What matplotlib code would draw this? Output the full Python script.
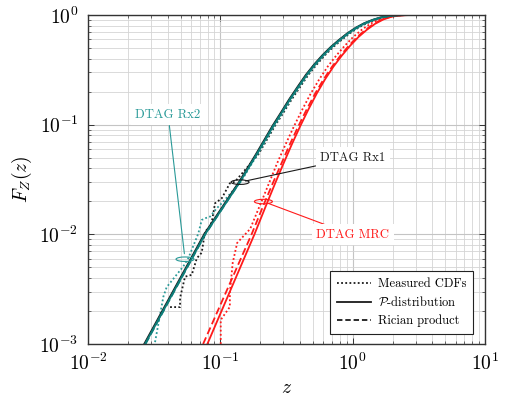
import matplotlib
matplotlib.use("Agg")
import matplotlib.pyplot as plt
from matplotlib.patches import Ellipse
from matplotlib.transforms import ScaledTranslation
from matplotlib.lines import Line2D

plt.rcParams['mathtext.fontset'] = 'cm'
plt.rcParams['font.family'] = ['cmr10', 'DejaVu Serif']
plt.rcParams['axes.formatter.use_mathtext'] = True
plt.rcParams['axes.unicode_minus'] = False

# ---------------- data ----------------
# Measured CDFs
z_rx2_meas = [0.0321, 0.0371, 0.0393, 0.0525, 0.0573, 0.0682, 0.0723, 0.0766, 0.0836, 0.094, 0.1025,
              0.143, 0.191, 0.256, 0.296, 0.341, 0.395, 0.457, 0.528, 0.610, 0.705, 0.816, 0.943,
              1.09, 1.26, 1.45, 1.67, 1.93, 2.22, 2.55, 10]
F_rx2_meas = [1.04e-3, 2.7e-3, 3.3e-3, 5.1e-3, 6.05e-3, 0.0102, 0.0135, 0.0140, 0.0145, 0.0173, 0.0192,
              0.0302, 0.0537, 0.0977, 0.1288, 0.1698, 0.2213, 0.2851, 0.3548, 0.4315, 0.5129, 0.5957,
              0.6839, 0.7674, 0.8414, 0.9016, 0.9506, 0.9795, 0.9954, 1.0, 1.0]

z_rx1_meas = [0.0417, 0.0496, 0.0496, 0.0541, 0.0608, 0.0664, 0.0723, 0.0766, 0.0836, 0.0865, 0.0912,
              0.1025, 0.118, 0.129, 0.194, 0.259, 0.300, 0.346, 0.401, 0.463, 0.536, 0.619, 0.716,
              0.828, 0.957, 1.106, 1.276, 1.472, 1.697, 1.958, 2.25, 2.6, 10]
F_rx1_meas = [2.17e-3, 2.17e-3, 2.63e-3, 4.11e-3, 4.27e-3, 6.05e-3, 6.8e-3, 0.0106, 0.0117, 0.0133, 0.0192,
              0.0213, 0.0292, 0.0302, 0.0537, 0.0977, 0.1288, 0.1698, 0.2213, 0.2851, 0.3548, 0.4315,
              0.5129, 0.5957, 0.6839, 0.7674, 0.8414, 0.9016, 0.9506, 0.9795, 0.9954, 1.0, 1.0]

z_mrc_meas = [0.1007, 0.1007, 0.118, 0.118, 0.124, 0.134, 0.148, 0.168, 0.205, 0.233, 0.268, 0.311,
              0.360, 0.417, 0.483, 0.560, 0.648, 0.752, 0.872, 1.01, 1.17, 1.36, 1.58, 1.86, 2.2, 2.6, 10]
F_mrc_meas = [1e-3, 1.66e-3, 2.18e-3, 2.92e-3, 5.5e-3, 8.35e-3, 9.5e-3, 0.0112, 0.02, 0.0292, 0.0442,
              0.0661, 0.0966, 0.138, 0.193, 0.26, 0.339, 0.427, 0.525, 0.631, 0.733, 0.832, 0.912,
              0.966, 0.991, 1.0, 1.0]

# P-distribution fits
z_rx2_p = [0.02698, 0.07656, 0.1409, 0.1884, 0.2518, 0.2911, 0.3357, 0.3890, 0.4498, 0.5200, 0.6012,
           0.6950, 0.8035, 0.9290, 1.074, 1.239, 1.429, 1.648, 1.901, 2.188, 2.512, 10]
F_rx2_p = [0.001, 0.01, 0.0302, 0.0537, 0.0977, 0.1288, 0.1698, 0.2213, 0.2851, 0.3548, 0.4315,
           0.5129, 0.5957, 0.6839, 0.7674, 0.8414, 0.9016, 0.9506, 0.9795, 0.9954, 1.0, 1.0]
z_rx1_p = [0.02658, 0.07541, 0.1388, 0.1856, 0.2480, 0.2867, 0.3307, 0.3832, 0.4431, 0.5122, 0.5922,
           0.6846, 0.7914, 0.9151, 1.058, 1.220, 1.408, 1.623, 1.872, 2.155, 2.474, 10]
F_rx1_p = F_rx2_p
z_mrc_p = [0.0798, 0.181, 0.2244, 0.2594, 0.2999, 0.3467, 0.4009, 0.4634, 0.5358, 0.6194, 0.7161,
           0.8279, 0.9572, 1.107, 1.279, 1.479, 1.710, 1.977, 2.291, 2.692, 10]
F_mrc_p = [0.001, 0.01, 0.01905, 0.02917, 0.04416, 0.06607, 0.09661, 0.1380, 0.1928, 0.2600, 0.3388,
           0.4266, 0.5248, 0.6310, 0.7328, 0.8318, 0.9120, 0.9661, 0.9908, 1.0, 1.0]

# Rician product fits
z_rx2_r = [0.0272, 0.0770, 0.1409, 0.1884, 0.2518, 0.2911, 0.3357, 0.3890, 0.4498, 0.5200, 0.6012,
           0.6950, 0.8035, 0.9290, 1.074, 1.239, 1.429, 1.648, 1.901, 2.188, 2.512, 10]
F_rx2_r = F_rx2_p
z_mrc_r = [0.0741, 0.1722, 0.2143, 0.2489, 0.2891, 0.3350, 0.3882, 0.4498, 0.5212, 0.6039, 0.6998,
           0.8091, 0.9354, 1.081, 1.250, 1.445, 1.671, 1.932, 2.239, 2.692, 10]
F_mrc_r = F_mrc_p

# annotation anchors (z, F) and label positions
ann_labels = ['DTAG Rx2', 'DTAG Rx1', 'DTAG MRC']
ann_points = [(0.0541, 5.93e-3), (0.141, 0.0299), (0.2115, 0.0199)]
ann_text = [(0.0403, 0.1226), (1.0, 0.0497), (1.0, 0.00987)]

x_ticks = [1e-2, 1e-1, 1e0, 1e1]
y_ticks = [1e-3, 1e-2, 1e-1, 1e0]

# ---------------- figure ----------------
TEAL = '#0e7c78'
TEAL_L = '#2a9a98'
RED = '#ff1a1a'
BLK = '#1a1a1a'

fig = plt.figure(figsize=(5.07, 3.98), dpi=100)
ax = fig.add_axes([0.1736, 0.1357, 0.7830, 0.8266])
ax.set_xscale('log')
ax.set_yscale('log')
ax.set_xlim(1e-2, 1e1)
ax.set_ylim(1e-3, 1e0)

dot = (0, (1.0, 1.3))
ax.plot(z_rx1_meas, F_rx1_meas, color=BLK, lw=1.3, ls=dot)
ax.plot(z_rx2_meas, F_rx2_meas, color=TEAL_L, lw=1.3, ls=dot)
ax.plot(z_mrc_meas, F_mrc_meas, color=RED, lw=1.3, ls=dot)

ax.plot(z_mrc_r, F_mrc_r, color=RED, lw=1.3, ls=(0, (4, 2)))
ax.plot(z_mrc_p, F_mrc_p, color=RED, lw=1.3)
ax.plot(z_rx1_p, F_rx1_p, color=BLK, lw=1.3)
ax.plot(z_rx2_r, F_rx2_r, color=TEAL, lw=1.3, ls=(0, (4, 2)))
ax.plot(z_rx2_p, F_rx2_p, color=TEAL, lw=1.4)

ax.set_xticks(x_ticks)
ax.set_yticks(y_ticks)
ax.grid(True, which='major', color='#c4c4c4', lw=0.8)
ax.grid(True, which='minor', color='#d4d4d4', lw=0.6)
ax.set_axisbelow(True)
ax.tick_params(which='both', direction='in', top=True, right=True, labelsize=14, color='#333333')
ax.tick_params(which='major', length=4, width=0.7)
ax.tick_params(which='minor', length=2.5, width=0.5)
ax.tick_params(axis='x', pad=6)
ax.tick_params(axis='y', pad=7)
for s in ax.spines.values():
    s.set_color('#333333')
    s.set_linewidth(1.0)

ax.set_xlabel(r'$z$', fontsize=14, labelpad=4)
ax.set_ylabel(r'$F_Z(z)$', fontsize=14, labelpad=4)

# annotations
cols = [TEAL_L, BLK, RED]
for lab, pt, tp, c in zip(ann_labels, ann_points, ann_text, cols):
    tr = fig.dpi_scale_trans + ScaledTranslation(pt[0], pt[1], ax.transData)
    ax.add_patch(Ellipse((0, 0), 0.18, 0.045, transform=tr, fill=False, ec=c, lw=0.8, zorder=6))
    ax.annotate(lab, xy=pt, xytext=tp, textcoords='data', ha='center', va='center', color=c, fontsize=9.2,
                arrowprops=dict(arrowstyle='-', color=c, lw=0.8, shrinkA=0, shrinkB=4),
                bbox=dict(boxstyle='square,pad=0.35', fc='white', ec='none'), zorder=7)

handles = [Line2D([], [], color=BLK, lw=1.3, ls=dot),
           Line2D([], [], color=BLK, lw=1.3),
           Line2D([], [], color=BLK, lw=1.3, ls=(0, (3, 1.6)))]
leg = ax.legend(handles, ['Measured CDFs', r'$\mathcal{P}$-distribution', 'Rician product'],
                loc='lower right', bbox_to_anchor=(0.97, 0.03), borderaxespad=0, fontsize=9,
                handlelength=2.7, handletextpad=0.55, frameon=True, fancybox=False, framealpha=1,
                edgecolor='#222222', labelspacing=0.45, borderpad=0.55)
leg.get_frame().set_linewidth(0.8)

fig.savefig('out.png', dpi=100)
